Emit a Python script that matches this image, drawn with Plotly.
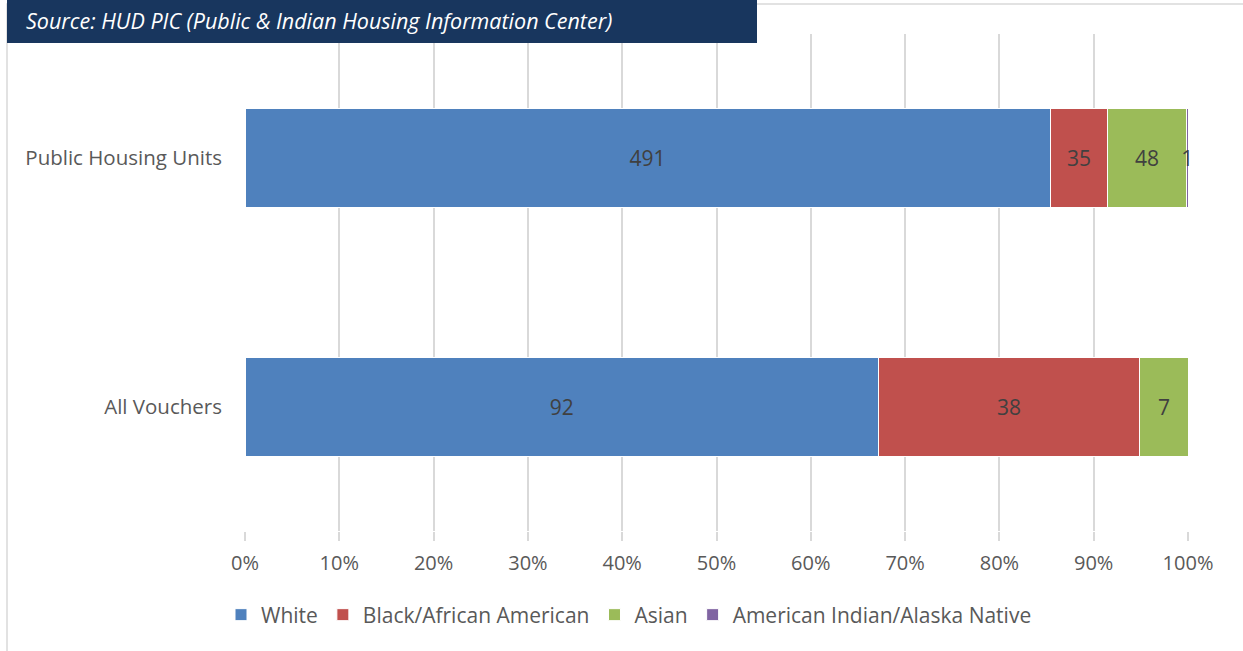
import plotly.graph_objects as go

# カテゴリ（上から順）
categories = ["Public Housing Units", "All Vouchers"]

# 人種別の戸数
white = [491, 92]
black = [35, 38]
asian = [48, 7]
aian = [1, 0]

series_names = ["White", "Black/African American", "Asian", "American Indian/Alaska Native"]
series_values = [white, black, asian, aian]
series_colors = ["#4f81bd", "#c0504d", "#9bbb59", "#8064a2"]

x_ticks = list(range(0, 101, 10))
x_tick_labels = [f"{v}%" for v in x_ticks]

fig = go.Figure()

for name, vals, color in zip(series_names, series_values, series_colors):
    labels = [str(v) if v else "" for v in vals]
    fig.add_trace(go.Bar(
        y=categories,
        x=vals,
        name=name,
        orientation="h",
        marker=dict(color=color, line=dict(color="white", width=1)),
        text=labels,
        texttemplate="%{text}",
        textposition="inside",
        insidetextanchor="middle",
        constraintext="none",
        textfont=dict(color="#404040", size=21, family="Open Sans"),
        cliponaxis=False,
    ))

# 枠と見出しボックス（ピクセル→paper座標）
L, T, W_PLOT, H_PLOT = 245, 34, 943, 497


def px_x(p):
    return (p - L) / W_PLOT


def px_y(p):
    return (T + H_PLOT - p) / H_PLOT


fig.add_shape(type="rect", xref="paper", yref="paper",
              x0=px_x(7), x1=px_x(1260), y0=px_y(670), y1=px_y(4),
              line=dict(color="#d9d9d9", width=1.5), fillcolor="rgba(0,0,0,0)", layer="below")
fig.add_shape(type="rect", xref="paper", yref="paper",
              x0=px_x(7), x1=px_x(757), y0=px_y(43), y1=px_y(-10),
              line=dict(width=0), fillcolor="#18365e", layer="above")
fig.add_annotation(text="<i>Source: HUD PIC (Public & Indian Housing Information Center)</i>",
                   xref="paper", yref="paper", x=px_x(24), y=px_y(21),
                   xanchor="left", yanchor="middle", showarrow=False,
                   font=dict(color="white", size=21.5, family="Open Sans"))

fig.update_layout(
    width=1243,
    height=651,
    barmode="stack",
    barnorm="percent",
    bargap=0.6,
    margin=dict(l=L, r=1243 - L - W_PLOT, t=T, b=651 - T - H_PLOT, pad=0),
    paper_bgcolor="white",
    plot_bgcolor="white",
    font=dict(family="Open Sans", color="#595959", size=20),
    showlegend=True,
    legend=dict(
        orientation="h",
        x=px_x(629), xanchor="center",
        y=px_y(615), yanchor="middle",
        font=dict(size=21, color="#595959"),
        traceorder="normal",
        itemwidth=30,
    ),
    xaxis=dict(
        range=[0, 100],
        tickvals=x_ticks,
        ticktext=x_tick_labels,
        showgrid=True,
        gridcolor="#d9d9d9",
        gridwidth=1.5,
        zeroline=False,
        ticks="outside",
        ticklen=9,
        tickcolor="#d9d9d9",
        tickwidth=1.5,
        showline=False,
        ticklabelstandoff=5,
        tickfont=dict(size=20, color="#595959"),
    ),
    yaxis=dict(
        autorange="reversed",
        showgrid=False,
        showline=False,
        ticks="",
        ticklabelstandoff=22,
        tickfont=dict(size=20.5, color="#595959"),
    ),
)

fig.write_html("out.html", config={"displayModeBar": False},
               post_script="document.body.style.margin='0';")
